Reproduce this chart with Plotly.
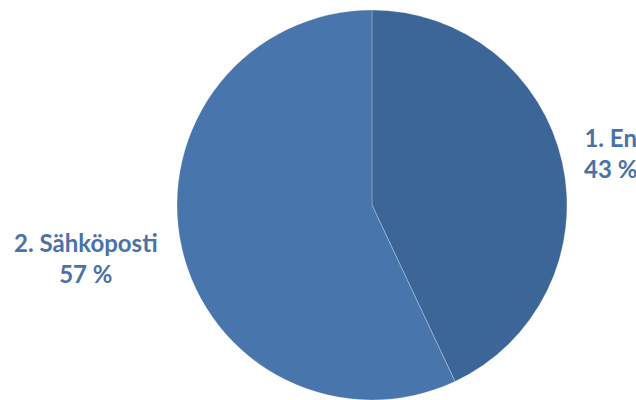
import plotly.graph_objects as go

labels = ["1. En", "2. Sähköposti"]
values = [43, 57]
colors = ["#3c6598", "#4775ac"]

# label anchor positions (paper coords)
label_pos = [(0.96, 0.617), (0.136, 0.355)]

fig = go.Figure(go.Pie(
    labels=labels,
    values=values,
    sort=False,
    direction="clockwise",
    rotation=0,
    marker=dict(colors=colors, line=dict(color="rgba(255,255,255,0.25)", width=1)),
    textinfo="none",
    hoverinfo="label+percent",
    showlegend=False,
    domain=dict(x=[0.2783, 0.8915], y=[0.0, 0.975]),
))

for lab, v, (x, y) in zip(labels, values, label_pos):
    fig.add_annotation(
        x=x, y=y, xref="paper", yref="paper",
        text=f"{lab}<br>{v} %",
        showarrow=False, align="center",
        xanchor="center", yanchor="middle",
        font=dict(family="Lato", size=24, color="#4a72a8", weight="bold"),
    )

fig.update_layout(
    width=636, height=400,
    margin=dict(l=0, r=0, t=0, b=0),
    paper_bgcolor="white",
    plot_bgcolor="white",
)

fig.write_html("out.html")
